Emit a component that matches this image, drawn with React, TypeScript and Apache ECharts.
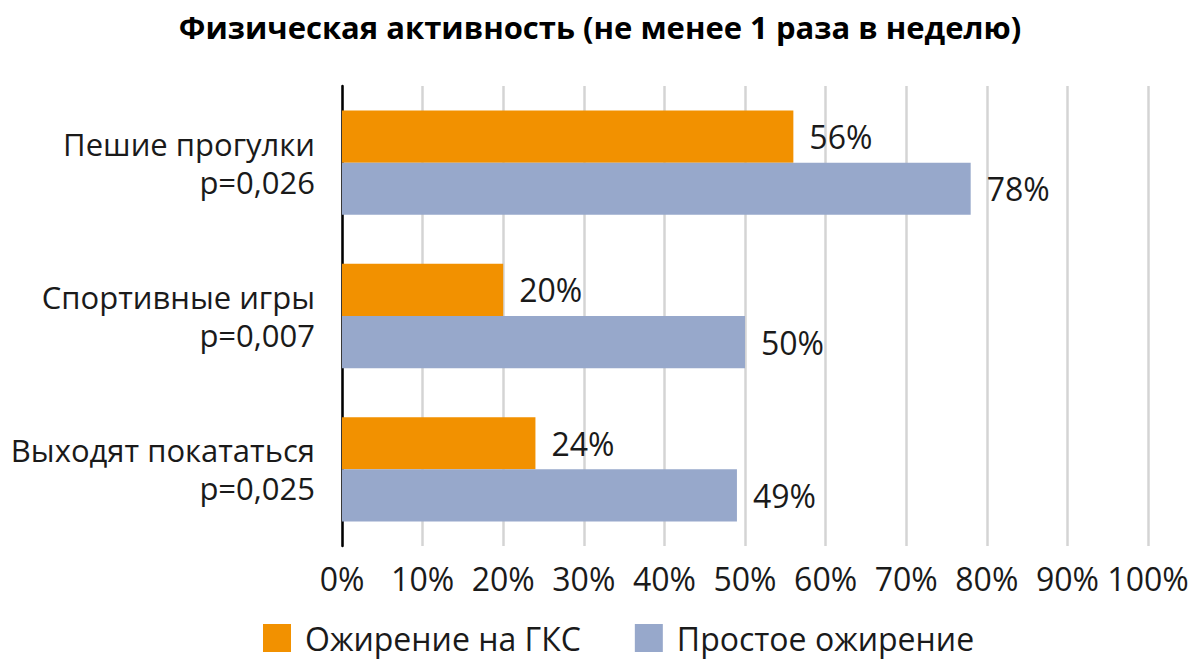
import React, { useEffect, useRef } from "react";
import * as echarts from "echarts";

const categories = ["Пешие прогулки\np=0,026", "Спортивные игры\np=0,007", "Выходят покататься\np=0,025"];
const seriesNames = ["Ожирение на ГКС", "Простое ожирение"];
const gksValues = [56, 20, 24];
const simpleValues = [78, 50, 49];
const titleText = "Физическая активность (не менее 1 раза в неделю)";

const FONT = "'Open Sans', 'Noto Sans', sans-serif";

export default function App() {
  const ref = useRef<HTMLDivElement>(null);
  useEffect(() => {
    if (!ref.current) return;
    const chart = echarts.init(ref.current, null, { renderer: "svg" });
    const labelStyle = {
      show: true,
      position: "right" as const,
      distance: 16,
      formatter: "{c}%",
      color: "#1a1a1a",
      fontSize: 32,
      fontFamily: FONT,
    };
    chart.setOption({
      animation: false,
      backgroundColor: "#ffffff",
      title: {
        text: titleText,
        left: "center",
        top: 6,
        textStyle: { fontFamily: FONT, fontSize: 31, fontWeight: "bold", color: "#000" },
      },
      legend: {
        bottom: 9,
        left: 258,
        itemWidth: 28,
        itemHeight: 28,
        itemGap: 54,
        icon: "rect",
        textStyle: { fontFamily: FONT, fontSize: 32, color: "#1a1a1a", padding: [0, 0, 0, 9] },
        data: seriesNames,
      },
      grid: { left: 342, right: 52, top: 86, bottom: 122 },
      xAxis: {
        type: "value",
        min: 0,
        max: 100,
        interval: 10,
        axisLine: { show: false },
        axisTick: { show: false },
        axisLabel: { formatter: "{value}%", fontFamily: FONT, fontSize: 32, color: "#1a1a1a", margin: 16 },
        splitLine: { show: true, lineStyle: { color: "#d4d4d4", width: 2.5 } },
      },
      yAxis: {
        type: "category",
        inverse: true,
        data: categories,
        axisLine: { show: true, lineStyle: { color: "#000", width: 2.5 } },
        axisTick: { show: false },
        axisLabel: {
          fontFamily: FONT,
          fontSize: 31,
          color: "#1a1a1a",
          margin: 27,
          align: "right",
          lineHeight: 38,
        },
      },
      series: [
        {
          name: seriesNames[0],
          type: "bar",
          data: gksValues,
          itemStyle: { color: "#F29100" },
          barGap: "0%",
          barCategoryGap: "32%",
          label: labelStyle,
        },
        {
          name: seriesNames[1],
          type: "bar",
          data: simpleValues,
          itemStyle: { color: "#97A8CB" },
          barGap: "0%",
          barCategoryGap: "32%",
          label: labelStyle,
        },
      ],
    });
    return () => chart.dispose();
  }, []);
  return <div ref={ref} style={{ width: 1200, height: 668, position: "absolute", left: 0, top: 0 }} />;
}
